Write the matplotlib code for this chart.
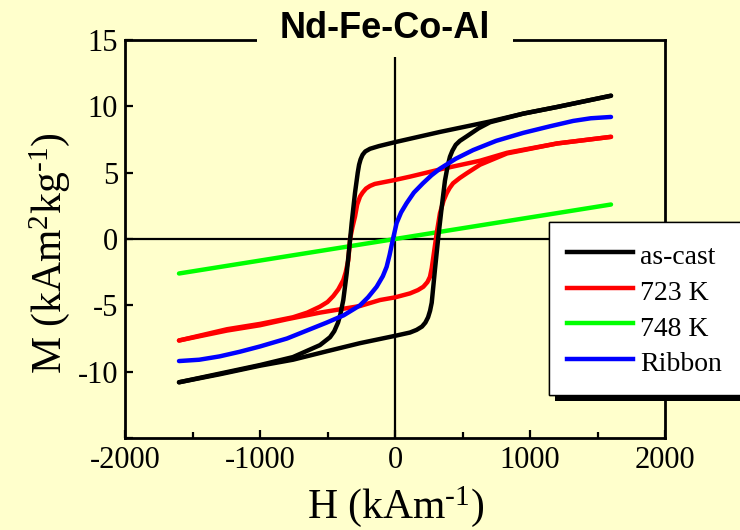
import matplotlib
matplotlib.use("Agg")
import matplotlib.pyplot as plt
import matplotlib.patheffects as pe
from matplotlib.patches import Rectangle
from matplotlib.ticker import MultipleLocator

# Hysteresis loops of Nd-Fe-Co-Al, H in kA/m, M in kA m^2/kg
# as-cast: descending-field and ascending-field branches
H_cast_dn = [1600, 1200, 950, 700, 333, 0, -120, -185, -220, -240, -255, -266,
             -276, -296, -321, -333, -358, -383, -405, -422, -450, -481, -556,
             -756, -1000, -1300, -1600]
M_cast_dn = [10.8, 9.95, 9.45, 8.85, 8.07, 7.3, 7.0, 6.8, 6.6, 6.35, 6.0, 5.6,
             5.0, 3.5, 1.2, -0.1, -2.6, -4.6, -5.7, -6.3, -6.95, -7.4, -8.0,
             -8.9, -9.5, -10.15, -10.8]
H_cast_up = [-1600, -1300, -1000, -756, -500, -259, 0, 111, 160, 200, 225, 245,
             260, 272, 296, 321, 346, 370, 390, 407, 425, 450, 481, 533, 620,
             704, 950, 1200, 1600]
M_cast_up = [-10.8, -10.2, -9.55, -9.1, -8.45, -7.85, -7.3, -7.05, -6.85, -6.6,
             -6.3, -5.9, -5.4, -4.8, -2.3, 0.17, 2.4, 4.4, 5.5, 6.2, 6.65, 7.1,
             7.4, 7.75, 8.35, 8.8, 9.45, 9.95, 10.8]

# annealed at 723 K
H_723_dn = [1600, 1200, 830, 630, 356, 111, 0, -100, -150, -185, -215, -240,
            -259, -280, -296, -315, -333, -346, -365, -383, -420, -457, -500,
            -556, -650, -756, -1000, -1244, -1600]
M_723_dn = [7.7, 7.2, 6.5, 5.9, 5.3, 4.7, 4.45, 4.25, 4.15, 4.0, 3.8, 3.5,
            3.2, 2.6, 1.7, 0.9, 0.0, -1.6, -2.5, -3.1, -3.8, -4.3, -4.75,
            -5.1, -5.55, -5.9, -6.4, -6.8, -7.65]
H_723_up = [-1600, -1244, -1000, -800, -556, -259, -111, 0, 111, 170, 210, 240,
            259, 272, 284, 309, 333, 360, 383, 405, 430, 480, 531, 630, 830,
            1200, 1600]
M_723_up = [-7.65, -6.9, -6.5, -6.05, -5.55, -5.05, -4.6, -4.4, -4.1, -3.85,
            -3.6, -3.25, -2.85, -2.2, -1.35, 0.45, 1.95, 2.9, 3.45, 3.85, 4.2,
            4.6, 4.95, 5.6, 6.45, 7.2, 7.7]

# annealed at 748 K
H_748 = [-1600, 0, 1600]
M_748 = [-2.6, 0.0, 2.6]

# melt-spun ribbon
H_rib = [-1600, -1450, -1300, -1150, -1000, -800, -506, -380, -259, -200, -136,
         -90, -62, -40, -15, 12, 45, 86, 140, 207, 270, 333, 450, 578, 750, 950,
         1150, 1320, 1450, 1600]
M_rib = [-9.2, -9.1, -8.85, -8.5, -8.1, -7.5, -6.3, -5.75, -5.0, -4.4, -3.6,
         -2.8, -2.1, -1.2, 0.0, 1.2, 2.0, 2.7, 3.5, 4.2, 4.8, 5.3, 6.05, 6.7,
         7.4, 8.0, 8.5, 8.9, 9.1, 9.2]

x_ticks = [-2000, -1000, 0, 1000, 2000]
y_ticks = [-15, -10, -5, 0, 5, 10, 15]
y_tick_labels = ["", "-10", "-5", "0", "5", "10", "15"]

BG = "#FFFFCC"
plt.rcParams["font.family"] = ["Liberation Serif", "DejaVu Serif"]
plt.rcParams["mathtext.fontset"] = "custom"
plt.rcParams["mathtext.rm"] = "Liberation Serif"
plt.rcParams["mathtext.it"] = "Liberation Serif:italic"
plt.rcParams["mathtext.bf"] = "Liberation Serif:bold"

fig = plt.figure(figsize=(7.4, 5.3), dpi=100, facecolor=BG)
ax = fig.add_axes([125 / 740, 1 - 438 / 530, 540 / 740, 398 / 530])
ax.set_facecolor(BG)

ax.axhline(0, color="black", lw=1.6, zorder=1)
ax.axvline(0, color="black", lw=1.6, zorder=1)

lw = 3.2
kw = dict(lw=lw, solid_joinstyle="round", solid_capstyle="round", zorder=2)
ax.plot(H_748, M_748, color="#00FF00", **kw)
ax.plot(H_723_dn, M_723_dn, color="#FF0000", **kw)
ax.plot(H_723_up, M_723_up, color="#FF0000", **kw)
ax.plot(H_cast_dn, M_cast_dn, color="black", **kw)
ax.plot(H_cast_up, M_cast_up, color="black", **kw)
ax.plot(H_rib, M_rib, color="#0000FF", **kw)

ax.set_xlim(-2000, 2000)
ax.set_ylim(-15, 15)
ax.set_xticks(x_ticks)
ax.set_xticklabels([str(v) for v in x_ticks])
ax.xaxis.set_minor_locator(MultipleLocator(500))
ax.set_yticks(y_ticks)
ax.set_yticklabels(y_tick_labels)

for s in ax.spines.values():
    s.set_linewidth(2)
ax.tick_params(axis="both", which="major", direction="in", length=6, width=1.6,
               labelsize=22, top=False, right=False)
ax.tick_params(axis="x", which="major", pad=6)
ax.tick_params(axis="y", which="major", pad=5)
ax.tick_params(axis="x", which="minor", direction="in", length=4, width=1.6,
               top=False)

# title sitting on a gap in the top frame line
gap = Rectangle((0.2444, 0.957), 0.4741, 0.12, transform=ax.transAxes,
                facecolor=BG, edgecolor="none", clip_on=False, zorder=3)
ax.add_patch(gap)
ax.text(0.481, 1.005, "Nd-Fe-Co-Al", transform=ax.transAxes, ha="center",
        va="baseline", fontsize=26, fontweight="bold",
        family=["Liberation Sans", "DejaVu Sans"], zorder=4, clip_on=False)

fig.text(396 / 740, 1 - 518 / 530, r"H (kAm$^{\text{-1}}$)", ha="center",
         va="baseline", fontsize=30)
fig.text(50 / 740, 1 - 253 / 530, r"M (kAm$^{2}$kg$^{\text{-1}}$)", ha="center",
         va="center", rotation=90, fontsize=30)

handles = [
    plt.Line2D([], [], color="black", lw=lw),
    plt.Line2D([], [], color="#FF0000", lw=lw),
    plt.Line2D([], [], color="#00FF00", lw=lw),
    plt.Line2D([], [], color="#0000FF", lw=lw),
]
labels = ["as-cast", "723 K", "748 K", "Ribbon"]
leg = ax.legend(handles, labels, loc="upper left",
                bbox_to_anchor=(549 / 740, 1 - 399 / 530, 200 / 740, 177 / 530),
                bbox_transform=fig.transFigure, borderaxespad=0, mode="expand",
                prop={"family": ["Liberation Serif"], "size": 20},
                handlelength=2.37, handletextpad=0.25,
                handleheight=1.26, borderpad=0.65, labelspacing=0.2,
                fancybox=False, framealpha=1, facecolor="white",
                edgecolor="black")
leg.get_frame().set_linewidth(1.0)
leg.get_frame().set_path_effects([
    pe.withSimplePatchShadow(offset=(4.3, -4.3), shadow_rgbFace="black",
                             alpha=1.0),
    pe.Normal(),
])

fig.savefig("out.png", dpi=100, facecolor=BG)
